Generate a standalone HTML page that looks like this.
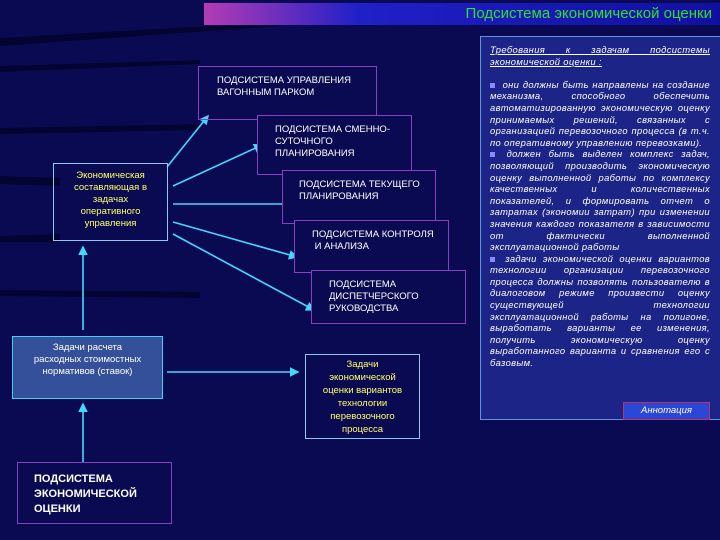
<!DOCTYPE html>
<html><head><meta charset="utf-8"><style>
*{margin:0;padding:0;box-sizing:border-box}
body{width:720px;height:540px;overflow:hidden;background:#0a0a52;position:relative;font-family:"Liberation Sans",sans-serif}
.b{position:absolute;font-size:9.5px;line-height:12px}
.p{border:1.5px solid #8a3fc0;color:#fff;padding:8px 0 0 18px}
.c{border:1.5px solid #8fc8f0;color:#ffff66;text-align:center}
#panel{position:absolute;left:480px;top:36px;width:240px;height:384px;background:#1c2488;border:1px solid #6090e0;border-right:none;color:#fff;font-style:italic;font-size:9.4px;line-height:11.6px;letter-spacing:0.35px;padding:7px 10px 0 9px;text-align:justify}
#panel u{text-decoration:underline}
.sq{display:inline-block;width:5px;height:5px;background:#8888ff;margin-right:4px}
</style></head><body>
<svg width="720" height="540" style="position:absolute;left:0;top:0">
<defs>
<linearGradient id="t" x1="0" x2="1"><stop offset="0" stop-color="#b43cb4"/><stop offset="0.3" stop-color="#2020c8"/><stop offset="1" stop-color="#1010a0"/></linearGradient>
<marker id="a" markerWidth="6" markerHeight="6" refX="5" refY="3" orient="auto"><path d="M0,0L6,3L0,6z" fill="#44d8ff"/></marker>
</defs>
<g fill="#03032a" opacity="0.8">
<path d="M0,38 L280,22 L280,26 L0,46z"/>
<path d="M0,66 L200,60 L200,64 L0,72z"/>
<path d="M0,128 L200,124 L200,130 L0,134z"/>
<path d="M0,176 L60,178 L60,186 L0,184z"/>
<path d="M0,236 L60,234 L60,242 L0,242z"/>
<path d="M0,290 L200,292 L200,298 L0,296z"/>
</g>
<rect x="204" y="3" width="516" height="22" fill="url(#t)"/>
<g stroke="#44d8ff" stroke-width="1.6" marker-end="url(#a)">
<line x1="167" y1="167" x2="208" y2="116"/>
<line x1="173" y1="186" x2="262" y2="145"/>
<line x1="173" y1="204" x2="292" y2="204"/>
<line x1="173" y1="222" x2="297" y2="257"/>
<line x1="173" y1="234" x2="314" y2="310"/>
<line x1="83" y1="330" x2="83" y2="247"/>
<line x1="83" y1="463" x2="83" y2="404"/>
<line x1="167" y1="372" x2="298" y2="372"/>
</g>
</svg>
<div style="position:absolute;left:204px;top:3px;width:508px;height:22px;text-align:right;color:#30e030;font-size:15px;line-height:22px">Подсистема экономической оценки</div>

<div class="b p" style="left:198px;top:66px;width:179px;height:54px">ПОДСИСТЕМА УПРАВЛЕНИЯ<br>ВАГОННЫМ ПАРКОМ</div>
<div class="b p" style="left:257px;top:115px;width:155px;height:60px;padding-left:17px;background:#0a0a52">ПОДСИСТЕМА СМЕННО-<br>СУТОЧНОГО<br>ПЛАНИРОВАНИЯ</div>
<div class="b p" style="left:282px;top:170px;width:154px;height:54px;padding-left:16px;background:#0a0a52">ПОДСИСТЕМА ТЕКУЩЕГО<br>ПЛАНИРОВАНИЯ</div>
<div class="b p" style="left:294px;top:220px;width:155px;height:53px;padding-left:17px;background:#0a0a52">ПОДСИСТЕМА КОНТРОЛЯ<br>&nbsp;И АНАЛИЗА</div>
<div class="b p" style="left:311px;top:270px;width:155px;height:54px;padding-left:17px;background:#0a0a52">ПОДСИСТЕМА<br>ДИСПЕТЧЕРСКОГО<br>РУКОВОДСТВА</div>

<div class="b c" style="left:53px;top:163px;width:115px;height:78px;padding-top:6px">Экономическая<br>составляющая в<br>задачах<br>оперативного<br>управления</div>
<div class="b c" style="left:12px;top:336px;width:151px;height:63px;padding-top:5px;background:#34509a;color:#fff;border-color:#40d0f0">Задачи расчета<br>расходных стоимостных<br>нормативов (ставок)</div>
<div class="b c" style="left:305px;top:354px;width:115px;height:85px;padding-top:3px;line-height:13px">Задачи<br>экономической<br>оценки вариантов<br>технологии<br>перевозочного<br>процесса</div>
<div class="b p" style="left:17px;top:462px;width:155px;height:62px;padding:9px 0 0 16px;font-weight:bold;font-size:11px;line-height:15px">ПОДСИСТЕМА<br>ЭКОНОМИЧЕСКОЙ<br>ОЦЕНКИ</div>

<div id="panel"><u>Требования к задачам подсистемы экономической оценки :</u><br><br>
<span class="sq"></span> они должны быть направлены на создание механизма, способного обеспечить автоматизированную экономическую оценку принимаемых решений, связанных с организацией перевозочного процесса (в т.ч. по оперативному управлению перевозками).<br>
<span class="sq"></span> должен быть выделен комплекс задач, позволяющий производить экономическую оценку выполненной работы по комплексу качественных и количественных показателей, и формировать отчет о затратах (экономии затрат) при изменении значения каждого показателя в зависимости от фактически выполненной эксплуатационной работы<br>
<span class="sq"></span> задачи экономической оценки вариантов технологии организации перевозочного процесса должны позволять пользователю в диалоговом режиме произвести оценку существующей технологии эксплуатационной работы на полигоне, выработать варианты ее изменения, получить экономическую оценку выработанного варианта и сравнения его с базовым.</div>
<div style="position:absolute;left:623px;top:402px;width:87px;height:18px;background:#2a48d8;border:1.5px solid #c03060;color:#fff;font-style:italic;font-size:9.5px;line-height:15px;text-align:center">Аннотация</div>
</body></html>
